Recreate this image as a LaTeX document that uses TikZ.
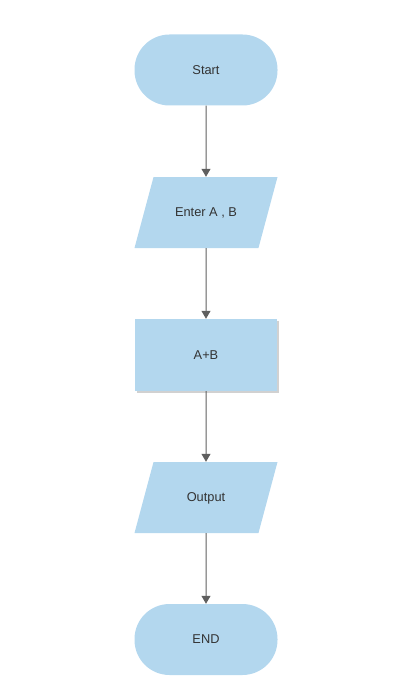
\documentclass[tikz,border=0pt]{standalone}
\usepackage{fontspec}
\setmainfont{Liberation Sans}
\usetikzlibrary{arrows.meta,shapes.geometric,shadows}
\definecolor{boxblue}{HTML}{B3D7EE}
\definecolor{linegrey}{HTML}{5F5F5F}
\definecolor{textgrey}{HTML}{333333}
\begin{document}
\begin{tikzpicture}[x=1pt,y=-1pt,
    every node/.style={font=\fontsize{12.8}{15}\selectfont,text=textgrey},
    terminal/.style={fill=boxblue,rounded corners=35pt,minimum width=143pt,minimum height=71pt},
    iobox/.style={trapezium,trapezium left angle=75,trapezium right angle=105,trapezium stretches body,
      fill=boxblue,minimum width=143pt,text height=9.5pt,text depth=2.5pt,inner ysep=29.5pt},
    procbox/.style={fill=boxblue,minimum width=142pt,minimum height=72pt,
      drop shadow={shadow xshift=1.5pt,shadow yshift=-1.5pt,opacity=0.3,fill=black!60}},
    flow/.style={draw=linegrey,line width=1pt,-{Triangle[width=9pt,length=8pt]}}]
      \useasboundingbox (0,0) rectangle (415,679);
      \node[terminal] (start) at (206,70) {Start};
      \node[iobox] (enter) at (206,212.5) {Enter A , B};
      \node[procbox] (sum) at (206,355) {A+B};
      \node[iobox] (output) at (206,497.5) {Output};
      \node[terminal] (end) at (206,639.5) {END};
      \draw[flow] (start) -- (enter);
      \draw[flow] (enter) -- (sum);
      \draw[flow] (sum) -- (output);
      \draw[flow] (output) -- (end);
    \end{tikzpicture}
\end{document}
